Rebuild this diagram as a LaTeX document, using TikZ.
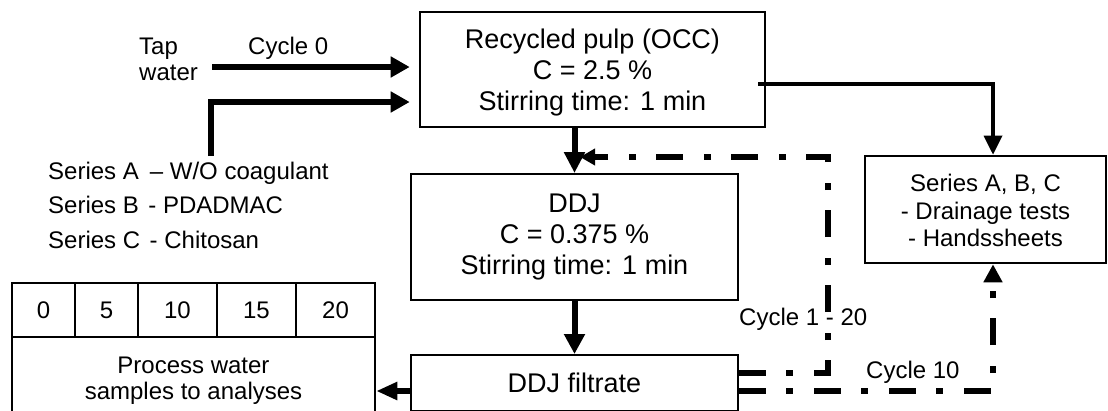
\documentclass[tikz,border=0pt]{standalone}
\usepackage{fontspec}
\setmainfont{Liberation Sans}
\usetikzlibrary{arrows.meta}
\begin{document}
\begin{tikzpicture}[x=1pt,y=-1pt,
  bigtxt/.style={font=\fontsize{27}{31}\selectfont},
  smalltxt/.style={font=\fontsize{24}{26}\selectfont},
  box/.style={draw, line width=2pt, align=center, inner sep=0pt, bigtxt},
  cell/.style={draw, line width=2.5pt, inner sep=0pt, smalltxt, minimum height=54pt},
  label/.style={inner sep=0pt, smalltxt},
  thickarrow/.style={line width=6pt, -{Triangle[length=19pt,width=20pt]}},
  cyclink/.style={line width=6pt, line cap=butt, dash pattern=on 27pt off 20pt on 7pt off 21pt}
]
\useasboundingbox (0,0) rectangle (1108,410);
\clip (0,0) rectangle (1108,410);

% boxes
\node[box, line width=2.6pt, minimum width=345pt, minimum height=115pt] (pulp) at (592.5,69.5)
  {\rule{0pt}{28pt}Recycled pulp (OCC)\\C = 2.5 \%\\Stirring time: 1 min\rule[-8pt]{0pt}{8pt}};
\node[box, minimum width=327pt, minimum height=126pt] (ddj) at (574.5,237)
  {\rule{0pt}{21pt}DDJ\\C = 0.375 \%\\Stirring time: 1 min\rule[-8pt]{0pt}{8pt}};
\node[box, minimum width=327pt, minimum height=56pt] (filt) at (574.5,383) {DDJ filtrate};
\node[box, line width=2.6pt, font=\fontsize{24}{27.5}\selectfont, minimum width=241pt, minimum height=107pt] (series) at (985.5,209.5)
  {\rule{0pt}{23.2pt}Series A, B, C\\- Drainage tests\\- Handssheets\rule[-4pt]{0pt}{4pt}};

% table
\node[cell, minimum width=63pt] (c0) at (43.5,310) {0};
\node[cell, minimum width=63pt] (c5) at (106.5,310) {5};
\node[cell, minimum width=79pt] (c10) at (177.5,310) {10};
\node[cell, minimum width=79pt] (c15) at (256.5,310) {15};
\node[cell, minimum width=79pt] (c20) at (335.5,310) {20};
\node[cell, align=center, minimum width=363pt, minimum height=83pt] (pw) at (193.5,378.5)
  {\rule{0pt}{20pt}Process water\\samples to analyses\rule[-5pt]{0pt}{5pt}};

% labels
\node[label, anchor=north west, align=left] (tap) at (139,36) {\rule{0pt}{18pt}Tap\\water};
\node[label, anchor=base west] (cyc0) at (248,54) {Cycle 0};
\node[inner sep=0pt, anchor=north west, align=left, font=\fontsize{24}{34.5}\selectfont] (chem) at (48,161)
  {\rule{0pt}{18pt}Series A\hspace{11pt}– W/O coagulant\\Series B\hspace{9.5pt}- PDADMAC\\Series C\hspace{9.5pt}- Chitosan};
\node[label, anchor=base west] (cyc120) at (739,325) {Cycle 1 - 20};
\node[label, anchor=base west] (cyc10) at (866,378) {Cycle 10};

% coordinates
\coordinate (tapstart) at (212,67);
\coordinate (chemstart) at (211,156);
\coordinate (turn) at (828,157);
\coordinate (merge) at (580,157);

% connectors
\draw[thickarrow, shorten >=9pt] (tapstart) -- ([yshift=2.5pt]pulp.west);
\draw[thickarrow, shorten >=9pt] (chemstart) |- ([yshift=-32.5pt]pulp.west);
\draw[line width=6pt, -{Triangle[length=21pt,width=20pt]}] (ddj.north |- pulp.south) -- (ddj.north);
\draw[line width=6pt, -{Triangle[length=20pt,width=20pt]}] (ddj.south) -- (filt.north);
\draw[line width=6pt, -{Triangle[length=21pt,width=17pt]}] ([yshift=-8pt]filt.west) -- ([yshift=-8pt]filt.west -| pw.east);
\draw[line width=3.5pt, -{Triangle[length=19pt,width=18pt]}] ([xshift=-8pt,yshift=-14.5pt]pulp.east) -| ([xshift=7.5pt]series.north);
\draw[cyclink, -{Triangle[length=15pt,width=16pt]}] ([yshift=10pt]filt.east) -| (turn) -- (merge);
\draw[cyclink, -{Triangle[length=18pt,width=18pt]}] ([yshift=-8pt]filt.east) -| ([xshift=7.5pt]series.south);
\end{tikzpicture}
\end{document}
